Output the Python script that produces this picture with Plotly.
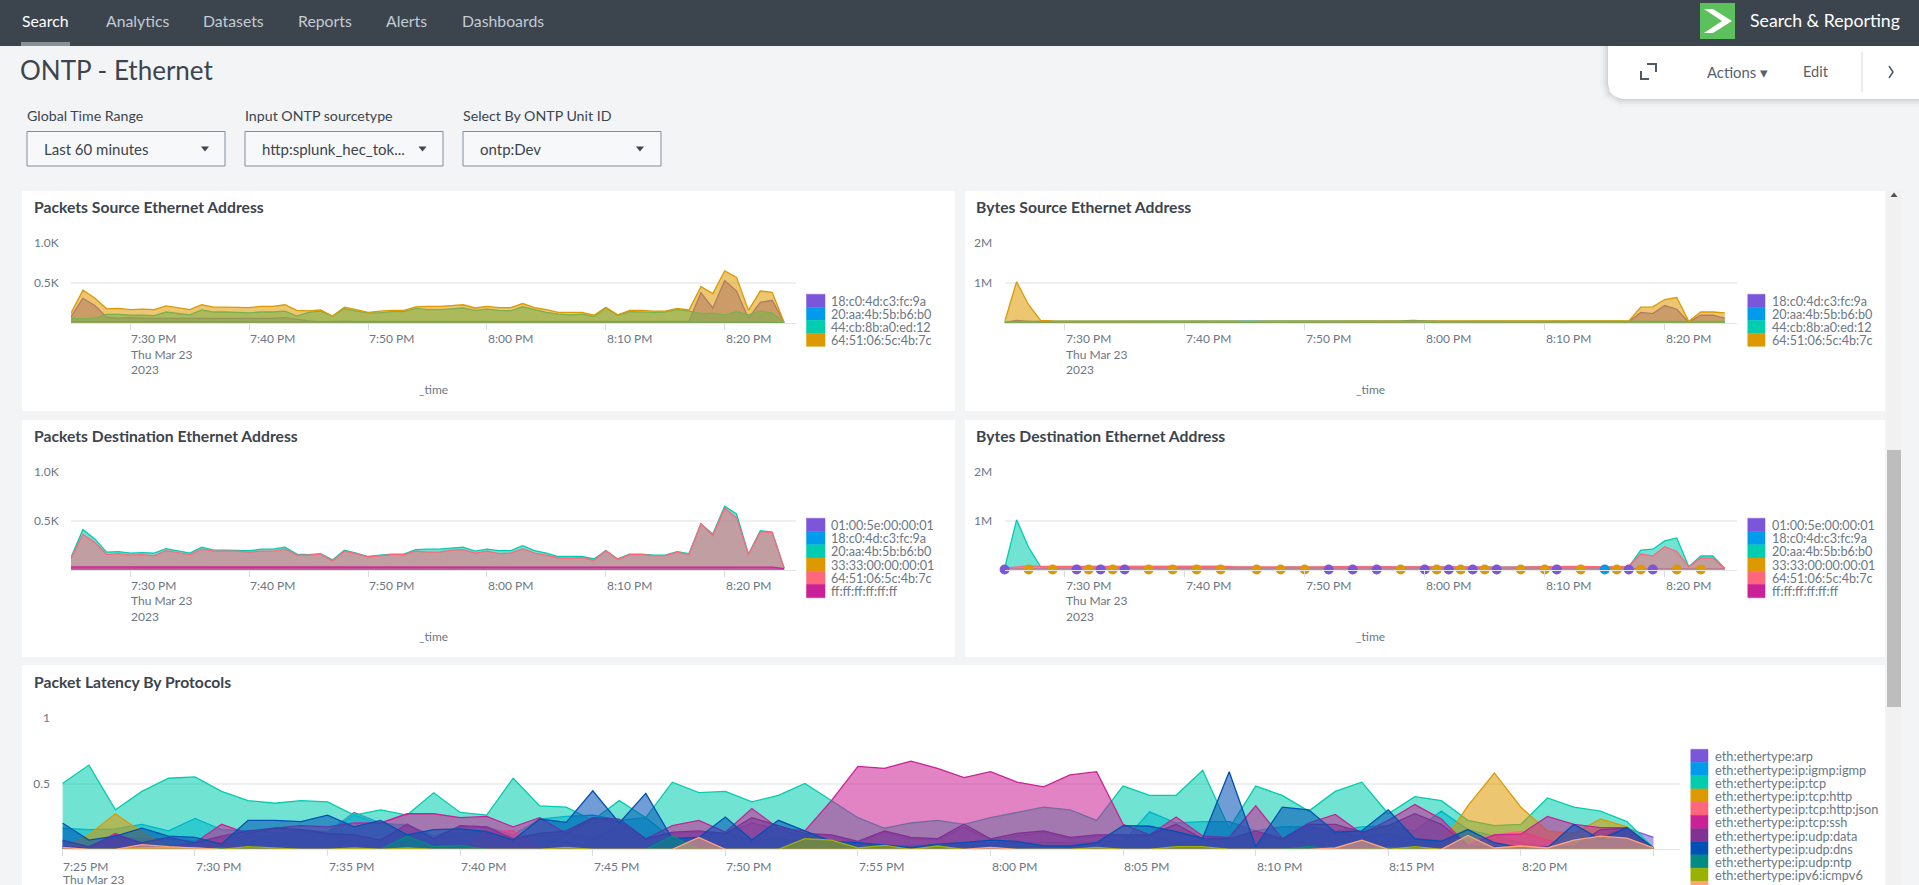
import pandas as pd
import plotly.graph_objects as go

W, H = 1919, 885

# one sample per minute, 7:25 PM to 8:25 PM
times = pd.date_range("2023-03-23 19:25", periods=61, freq="min")

# Packets Source Ethernet Address
src_pkts_18c0 = [80, 310, 220, 75, 65, 70, 65, 60, 60, 60, 60, 60, 60, 60, 60, 60, 60, 60, 70, 50, 30, 20, 25, 28, 25, 25, 28, 28, 30, 30, 30, 30, 28, 28, 25, 25, 25, 25, 25, 25, 25, 25, 25, 25, 22, 25, 25, 25, 25, 25, 25, 25, 25, 380, 190, 530, 400, 60, 260, 285, 10]
src_pkts_20aa = [25, 20, 20, 20, 20, 20, 20, 20, 20, 20, 20, 20, 20, 20, 20, 20, 20, 20, 20, 15, 12, 12, 12, 15, 15, 12, 12, 15, 15, 15, 15, 15, 15, 15, 15, 15, 15, 15, 15, 15, 15, 15, 15, 15, 12, 15, 15, 15, 15, 15, 15, 15, 15, 15, 15, 15, 15, 15, 15, 15, 5]
src_pkts_44cb = [65, 55, 65, 110, 110, 100, 100, 95, 140, 125, 105, 165, 140, 140, 135, 130, 140, 140, 150, 90, 135, 150, 90, 180, 150, 130, 130, 145, 145, 185, 170, 170, 180, 190, 160, 175, 160, 155, 205, 170, 135, 115, 105, 115, 85, 190, 100, 145, 140, 135, 140, 170, 150, 120, 125, 105, 145, 105, 155, 125, 8]
src_pkts_6451 = [125, 410, 315, 180, 185, 170, 175, 170, 215, 195, 170, 230, 200, 200, 200, 195, 210, 210, 230, 160, 155, 165, 90, 200, 170, 135, 150, 160, 160, 205, 210, 210, 220, 230, 190, 210, 195, 195, 245, 195, 170, 135, 135, 135, 100, 200, 105, 160, 160, 150, 150, 185, 165, 455, 370, 650, 570, 160, 400, 385, 10]

# Bytes Source Ethernet Address
src_bytes_18c0 = [20000, 70000, 50000, 30000, 30000, 30000, 30000, 30000, 30000, 30000, 30000, 30000, 30000, 30000, 30000, 30000, 30000, 30000, 30000, 30000, 30000, 30000, 30000, 30000, 30000, 30000, 30000, 30000, 30000, 30000, 30000, 30000, 30000, 30000, 30000, 30000, 30000, 30000, 30000, 30000, 30000, 30000, 30000, 30000, 30000, 30000, 30000, 30000, 30000, 30000, 30000, 30000, 40000, 270000, 240000, 440000, 350000, 30000, 200000, 200000, 130000]
src_bytes_20aa = [30000, 40000, 45000, 50000, 50000, 50000, 50000, 50000, 50000, 55000, 50000, 50000, 50000, 50000, 50000, 50000, 50000, 50000, 50000, 50000, 50000, 50000, 55000, 60000, 50000, 60000, 50000, 60000, 65000, 60000, 60000, 60000, 55000, 60000, 70000, 55000, 50000, 50000, 50000, 50000, 50000, 50000, 50000, 60000, 50000, 50000, 60000, 50000, 55000, 55000, 55000, 60000, 65000, 50000, 45000, 40000, 40000, 40000, 40000, 40000, 40000]
src_bytes_44cb = [40000, 50000, 50000, 50000, 50000, 50000, 50000, 50000, 50000, 50000, 50000, 50000, 50000, 50000, 50000, 50000, 50000, 50000, 50000, 50000, 45000, 45000, 45000, 45000, 45000, 45000, 45000, 45000, 45000, 45000, 45000, 45000, 45000, 45000, 45000, 45000, 45000, 45000, 45000, 45000, 45000, 45000, 45000, 45000, 45000, 45000, 45000, 45000, 45000, 45000, 45000, 45000, 45000, 45000, 45000, 45000, 45000, 45000, 45000, 45000, 45000]
src_bytes_6451 = [30000, 1030000, 460000, 70000, 60000, 60000, 65000, 55000, 70000, 65000, 60000, 70000, 65000, 65000, 65000, 65000, 65000, 70000, 70000, 55000, 50000, 50000, 45000, 50000, 50000, 45000, 50000, 50000, 50000, 50000, 50000, 50000, 50000, 55000, 50000, 50000, 50000, 50000, 50000, 50000, 50000, 45000, 45000, 45000, 45000, 50000, 45000, 50000, 50000, 50000, 50000, 50000, 60000, 400000, 410000, 590000, 640000, 50000, 280000, 280000, 260000]

# Packets Destination Ethernet Address
dst_pkts_0100 = [3, 2, 2, 3, 2, 2, 2, 3, 2, 2, 3, 2, 2, 2, 3, 2, 2, 2, 2, 2, 2, 2, 3, 2, 2, 2, 2, 3, 2, 2, 2, 3, 2, 2, 2, 3, 2, 2, 2, 2, 3, 2, 2, 2, 2, 2, 2, 2, 2, 2, 2, 2, 2, 2, 2, 2, 2, 2, 2, 2, 1]
dst_pkts_18c0 = [5, 4, 4, 4, 4, 4, 4, 4, 4, 4, 4, 4, 4, 4, 4, 4, 4, 4, 4, 4, 4, 4, 4, 4, 4, 4, 4, 4, 4, 4, 4, 4, 4, 4, 4, 4, 4, 4, 4, 4, 4, 4, 4, 4, 4, 4, 4, 4, 4, 4, 4, 4, 4, 4, 4, 4, 4, 4, 4, 4, 1]
dst_pkts_20aa = [125, 410, 315, 180, 185, 170, 175, 170, 215, 195, 170, 230, 200, 200, 200, 195, 210, 210, 230, 160, 155, 165, 100, 200, 170, 135, 150, 160, 160, 205, 210, 210, 220, 230, 190, 210, 195, 195, 245, 195, 170, 135, 135, 135, 110, 195, 110, 160, 160, 150, 150, 185, 165, 470, 365, 650, 570, 160, 400, 385, 15]
dst_pkts_3333 = [2, 3, 2, 3, 2, 2, 3, 2, 2, 3, 2, 2, 3, 2, 2, 3, 2, 2, 3, 2, 2, 3, 2, 2, 3, 2, 2, 3, 2, 2, 3, 2, 2, 3, 2, 2, 3, 2, 2, 3, 2, 2, 3, 2, 2, 3, 2, 2, 3, 2, 2, 3, 2, 2, 3, 2, 2, 3, 2, 2, 1]
dst_pkts_6451 = [115, 360, 280, 155, 165, 150, 155, 145, 195, 175, 155, 210, 190, 190, 190, 180, 190, 190, 210, 150, 150, 160, 90, 190, 165, 130, 145, 155, 155, 190, 180, 180, 200, 205, 170, 190, 165, 170, 215, 170, 150, 120, 115, 125, 95, 195, 105, 155, 155, 145, 145, 180, 155, 470, 350, 630, 530, 155, 390, 380, 15]
dst_pkts_ffff = [28, 28, 26, 26, 26, 28, 30, 30, 26, 26, 26, 28, 26, 26, 26, 30, 28, 26, 26, 26, 32, 30, 28, 26, 26, 30, 26, 26, 26, 28, 26, 26, 30, 26, 26, 30, 26, 26, 26, 26, 26, 26, 26, 26, 26, 26, 26, 26, 26, 26, 26, 28, 28, 30, 26, 26, 30, 30, 28, 26, 10]

# Bytes Destination Ethernet Address
dst_bytes_20aa = [30000, 1020000, 460000, 60000, 55000, 55000, 55000, 50000, 60000, 55000, 50000, 60000, 55000, 55000, 55000, 55000, 60000, 60000, 60000, 50000, 45000, 45000, 40000, 50000, 50000, 45000, 50000, 50000, 50000, 50000, 50000, 50000, 50000, 50000, 50000, 50000, 50000, 50000, 50000, 50000, 45000, 40000, 40000, 40000, 40000, 50000, 40000, 50000, 50000, 50000, 50000, 50000, 60000, 400000, 420000, 590000, 650000, 60000, 280000, 280000, 25000]
dst_bytes_6451 = [30000, 60000, 80000, 70000, 70000, 75000, 75000, 70000, 75000, 75000, 70000, 75000, 75000, 75000, 75000, 75000, 75000, 80000, 75000, 60000, 55000, 55000, 50000, 55000, 55000, 50000, 55000, 60000, 60000, 60000, 60000, 65000, 65000, 70000, 60000, 55000, 55000, 55000, 60000, 60000, 55000, 50000, 50000, 50000, 50000, 60000, 55000, 65000, 70000, 60000, 55000, 55000, 70000, 320000, 280000, 470000, 370000, 60000, 240000, 235000, 25000]
dst_bytes_ffff = [18000] * 61
# these three only report now and then, so they show as lone dots
dst_bytes_0100_at = [0, 6, 8, 10, 27, 29, 31, 35, 37, 39, 41, 46, 52, 54]
dst_bytes_0100 = [3000, 3000, 3000, 3000, 3000, 3000, 3000, 3000, 3000, 3000, 3000, 3000, 3000, 3000]
dst_bytes_18c0_at = [50]
dst_bytes_18c0 = [3000]
dst_bytes_3333_at = [2, 4, 7, 9, 12, 14, 16, 18, 21, 23, 25, 33, 36, 38, 40, 43, 45, 48, 51, 53, 56, 58]
dst_bytes_3333 = [3000] * 22

# Packet Latency By Protocols
lat_arp = [.06, .02, .09, .08, .08, .06, .09, .10, .10, .15, .13, .28, .20, .18, .08, .12, .14, .10, .10, .12, .08, .18, .08, .12, .13, .12, .20, .15, .10, .10, .05, .13, .08, .07, .17, .07, .10, .13, .08, .10, .10, .10, .05, .07, .07, .12, .07, .18, .12, .10, .12, .08, .07, .03, .02, .02, .02, .02, .10, .16, .09]
lat_igmp = [.16, .15, .155, .19, .14, .235, .15, .14, .13, .13, .12, .26, .19, .19, .10, .17, .17, .11, .23, .25, .26, .22, .24, .08, .10, .12, .07, .08, .06, .05, .04, .03, .03, .03, .03, .04, .05, .05, .05, .06, .06, .285, .20, .21, .21, .14, .17, .17, .14, .17, .18, .14, .29, .15, .10, .05, .02, .02, .02, .02, .01]
lat_tcp = [.50, .64, .30, .44, .54, .55, .44, .37, .35, .37, .36, .26, .30, .26, .43, .28, .26, .54, .33, .32, .22, .37, .24, .51, .43, .44, .36, .41, .50, .37, .24, .16, .20, .22, .19, .24, .28, .32, .30, .22, .48, .41, .41, .60, .16, .48, .41, .29, .44, .51, .27, .40, .37, .22, .18, .19, .39, .32, .29, .21, .01]
lat_http = [.0, .11, .27, .13, .02, .01, .0, .0, .0, .0, .0, .0, .0, .0, .0, .0, .0, .0, .0, .0, .0, .0, .0, .0, .0, .0, .0, .0, .0, .0, .0, .0, .0, .0, .0, .0, .0, .0, .0, .0, .0, .0, .0, .0, .0, .0, .0, .0, .0, .0, .0, .0, .03, .33, .58, .32, .14, .12, .23, .17, .0]
lat_json = [.01, .02, .12, .04, .02, .03, .07, .0, .0, .0, .0, .0, .0, .0, .0, .0, .135, .14, .0, .0, .0, .0, .0, .0, .0, .0, .0, .0, .0, .0, .0, .0, .0, .0, .0, .0, .0, .0, .0, .0, .0, .0, .0, .0, .0, .0, .0, .0, .0, .0, .0, .0, .0, .06, .11, .135, .07, .02, .0, .0, .0]
lat_ssh = [.02, .01, .12, .04, .02, .05, .19, .12, .16, .18, .17, .20, .20, .27, .27, .24, .25, .17, .24, .12, .235, .21, .08, .18, .22, .13, .31, .16, .14, .37, .63, .615, .67, .615, .545, .59, .51, .475, .565, .59, .19, .11, .245, .10, .09, .33, .08, .20, .265, .12, .22, .34, .23, .03, .11, .115, .25, .19, .165, .165, .01]
lat_udp_data = [.07, .02, .11, .05, .09, .05, .10, .14, .16, .15, .12, .11, .07, .19, .08, .18, .17, .08, .12, .14, .24, .23, .08, .13, .14, .12, .24, .18, .12, .11, .06, .14, .09, .08, .19, .08, .12, .14, .09, .11, .11, .11, .19, .08, .08, .14, .08, .19, .19, .13, .18, .27, .19, .03, .02, .01, .02, .02, .15, .16, .01]
lat_udp_dns = [.20, .07, .10, .16, .10, .09, .04, .22, .22, .21, .26, .17, .22, .11, .15, .155, .135, .07, .23, .205, .445, .20, .425, .08, .09, .245, .07, .22, .14, .06, .05, .03, .015, .04, .05, .07, .06, .025, .025, .05, .18, .175, .135, .085, .59, .02, .32, .30, .13, .14, .30, .08, .06, .15, .05, .01, .01, .19, .075, .165, .01]
lat_udp_ntp = [.0, .0, .0, .0, .0, .0, .01, .0, .0, .0, .0, .0, .0, .10, .02, .03, .0, .0, .0, .0, .0, .0, .0, .10, .0, .0, .0, .0, .0, .0, .0, .0, .0, .0, .0, .0, .0, .0, .0, .0, .0, .0, .0, .0, .0, .0, .0, .02, .0, .0, .015, .0, .0, .0, .0, .0, .0, .0, .0, .0, .0]
lat_icmpv6 = [.0, .0, .0, .01, .015, .01, .0, .02, .01, .0, .0, .01, .0, .01, .0, .0, .0, .0, .0, .015, .0, .0, .0, .0, .0, .0, .0, .0, .08, .07, .01, .03, .0, .025, .0, .0, .0, .0, .0, .015, .0, .0, .02, .02, .0, .0, .0, .0, .0, .0, .0, .02, .0, .0, .0, .0, .0, .0, .0, .0, .0]
lat_last = [.015, .0, .0, .035, .02, .01, .0, .0, .0, .0, .0, .0, .0, .0, .0, .0, .0, .0, .0, .0, .0, .0, .0, .0, .09, .0, .0, .0, .0, .0, .0, .0, .0, .0, .0, .015, .0, .0, .0, .0, .0, .0, .0, .0, .0, .0, .0, .0, .01, .07, .0, .0, .0, .105, .01, .025, .01, .07, .10, .085, .01]

# axis ticks
ticks_10 = ["19:30", "19:40", "19:50", "20:00", "20:10", "20:20"]
tick_text_10 = ["7:30 PM", "7:40 PM", "7:50 PM", "8:00 PM", "8:10 PM", "8:20 PM"]
ticks_5 = ["19:25", "19:30", "19:35", "19:40", "19:45", "19:50", "19:55", "20:00", "20:05", "20:10", "20:15", "20:20", "20:25"]
tick_text_5 = ["7:25 PM", "7:30 PM", "7:35 PM", "7:40 PM", "7:45 PM", "7:50 PM", "7:55 PM", "8:00 PM", "8:05 PM", "8:10 PM", "8:15 PM", "8:20 PM"]

# legends
src_names = ["18:c0:4d:c3:fc:9a", "20:aa:4b:5b:b6:b0", "44:cb:8b:a0:ed:12", "64:51:06:5c:4b:7c"]
dst_names = ["01:00:5e:00:00:01", "18:c0:4d:c3:fc:9a", "20:aa:4b:5b:b6:b0", "33:33:00:00:00:01", "64:51:06:5c:4b:7c", "ff:ff:ff:ff:ff:ff"]
proto_names = ["eth:ethertype:arp", "eth:ethertype:ip:igmp:igmp", "eth:ethertype:ip:tcp", "eth:ethertype:ip:tcp:http", "eth:ethertype:ip:tcp:http:json", "eth:ethertype:ip:tcp:ssh", "eth:ethertype:ip:udp:data", "eth:ethertype:ip:udp:dns", "eth:ethertype:ip:udp:ntp", "eth:ethertype:ipv6:icmpv6", ""]

nav_items = ["Search", "Analytics", "Datasets", "Reports", "Alerts", "Dashboards"]
nav_x = [21, 104.5, 202, 297, 385, 461]

PALETTE = ["#7B56DB", "#009CEB", "#00CDAF", "#DD9900", "#FF677B", "#CB2196", "#813193", "#0051B5", "#008C80", "#99B100", "#FFA476"]
FONT = "Lato"
TEXT = "#3c444d"
MUTED = "#6b7785"


def fx(x):
    return x / W


def fy(y):
    return 1 - y / H


def rgba(color, alpha):
    r, g, b = int(color[1:3], 16), int(color[3:5], 16), int(color[5:7], 16)
    return f"rgba({r},{g},{b},{alpha})"


fig = go.Figure()
shapes = []
notes = []


def box(x0, y0, x1, y1, fill, line=None, width=1):
    shapes.append(dict(type="rect", xref="paper", yref="paper", x0=fx(x0), x1=fx(x1), y0=fy(y1), y1=fy(y0),
                       fillcolor=fill, line=dict(color=line or fill, width=width if line else 0), layer="below"))


def poly(points, fill=None, line=None, width=1, close=True, layer="above"):
    path = "M " + " L ".join(f"{fx(x):.5f} {fy(y):.5f}" for x, y in points) + (" Z" if close else "")
    shapes.append(dict(type="path", xref="paper", yref="paper", path=path, fillcolor=fill,
                       line=dict(color=line or "rgba(0,0,0,0)", width=width), layer=layer))


def text(x, y, s, size=12, color=MUTED, anchor="left", bold=False):
    notes.append(dict(xref="paper", yref="paper", x=fx(x), y=fy(y), text=f"<b>{s}</b>" if bold else s, showarrow=False, borderpad=0,
                      xanchor=anchor, yanchor="middle", font=dict(family=FONT, size=size, color=color)))


def panel(idx, left, right, top, bottom, y_max, y_vals, y_text, ticks):
    # one subplot, placed by its pixel box
    layout = {
        f"xaxis{idx}": dict(domain=[fx(left), fx(right)], anchor=f"y{idx}", type="date", range=["2023-03-23 19:25", "2023-03-23 20:26"],
                            tickvals=["2023-03-23 " + t for t in ticks], showticklabels=False, ticks="outside", ticklen=6, tickcolor="#d8dce0",
                            showgrid=False, showline=True, linecolor="#e3e6e9", linewidth=1, zeroline=False),
        f"yaxis{idx}": dict(domain=[fy(bottom), fy(top)], anchor=f"x{idx}", range=[0, y_max], tickvals=y_vals, ticktext=y_text, ticks="outside",
                            ticklen=9, tickcolor="rgba(0,0,0,0)", tickfont=dict(family=FONT, size=12, color=MUTED), gridcolor="#eef0f2", gridwidth=2,
                            showline=False, zeroline=False),
    }
    fig.update_layout(**layout)


def areas(idx, series, colors):
    for values, color in zip(series, colors):
        fig.add_trace(go.Scatter(x=times, y=values, xaxis=f"x{idx}", yaxis=f"y{idx}", mode="lines", fill="tozeroy",
                                 fillcolor=rgba(color, 0.56), line=dict(color=color, width=1.3), showlegend=False))


def dots(idx, minutes, values, color):
    fig.add_trace(go.Scatter(x=[times[m] for m in minutes], y=values, xaxis=f"x{idx}", yaxis=f"y{idx}", mode="markers", cliponaxis=False,
                             marker=dict(color=color, size=10), showlegend=False))


def time_labels(idx, ticks, labels, y, date_lines):
    for t, s in zip(ticks, labels):
        notes.append(dict(xref=f"x{idx}", yref="paper", x="2023-03-23 " + t, y=fy(y), text=s, showarrow=False, xanchor="left", borderpad=0,
                          yanchor="middle", font=dict(family=FONT, size=12, color=MUTED)))
    for s, yy in date_lines:
        notes.append(dict(xref=f"x{idx}", yref="paper", x="2023-03-23 " + ticks[0], y=fy(yy), text=s, showarrow=False, xanchor="left", borderpad=0,
                          yanchor="middle", font=dict(family=FONT, size=12, color=MUTED)))


def legend(names, colors, sw_left, sw_right, top, step, text_x, size=12.6):
    for i, (name, color) in enumerate(zip(names, colors)):
        y0 = top + i * step
        box(sw_left, y0, sw_right, y0 + step, color, rgba(color, 0.5), 1)
        if name:
            text(text_x, y0 + step / 2 + 0.5, name, size=size)


# page furniture
box(0, 0, W, H, "#f2f4f5")
box(0, 0, W, 46, "#3c444d")
box(21, 42, 70, 46, "#8a9198")
for i, (s, x) in enumerate(zip(nav_items, nav_x)):
    text(x, 21, s, size=15.8, color="#ffffff" if i == 0 else "#c3cbd4")
box(1700, 3, 1735, 39, "#5cc05c")
poly([(1704, 9), (1713, 9), (1732, 21), (1713, 33), (1704, 33), (1722, 21)], fill="#ffffff")
text(1748.5, 21, "Search &amp; Reporting", size=17.7, color="#ffffff")
text(18.5, 70, "ONTP - Ethernet", size=26, color=TEXT)

# action box in the top right corner, with a soft shadow
for grow, a in [(8, 0.02), (5, 0.03), (3, 0.04), (1, 0.05)]:
    poly([(1608 - grow, 46), (1608 - grow, 84), (1611 - grow, 93 + grow * 0.6), (1620, 99 + grow), (W, 99 + grow), (W, 46)], fill=f"rgba(0,0,0,{a})", layer="below")
poly([(1608, 46), (1608, 84), (1610, 92), (1614, 96), (1622, 99), (W, 99), (W, 46)], fill="#ffffff", layer="below")
poly([(1641, 71), (1641, 79), (1649, 79)], line="#4f5964", width=2, close=False)
poly([(1647, 64), (1656, 64), (1656, 72)], line="#4f5964", width=2, close=False)
text(1705.5, 71.5, "Actions ▾", size=14.8, color="#56616c")
text(1802, 71.5, "Edit", size=14.5, color="#56616c")
poly([(1862, 52), (1862, 92)], line="#d5d9dd", width=1, close=False)
poly([(1889, 66), (1893, 72), (1889, 78)], line="#4f5964", width=1.5, close=False)

# dropdowns
for label, value, x0, arrow in [("Global Time Range", "Last 60 minutes", 27, 205), ("Input ONTP sourcetype", "http:splunk_hec_tok...", 245, 422.5), ("Select By ONTP Unit ID", "ontp:Dev", 463, 640)]:
    text(x0 - 0.8, 116, label, size=14.2, color=TEXT)
    box(x0, 131.5, x0 + 198, 166, "#f7f8fa", "#818d99", 1)
    text(x0 + 16, 148.5, value, size=15, color=TEXT)
    poly([(arrow - 4, 146.5), (arrow + 4, 146.5), (arrow, 151.5)], fill="#3c444d")

# white cards
box(22, 191, 955, 411, "#ffffff")
box(965, 191, 1885, 411, "#ffffff")
box(22, 420, 955, 657, "#ffffff")
box(965, 420, 1885, 657, "#ffffff")
box(22, 665, 1885, H, "#ffffff")

# scrollbar
box(1887, 191, 1901, H, "#f1f1f1")
box(1887, 450, 1901, 707, "#bdbdbd")
poly([(1890.5, 197), (1897.5, 197), (1894, 192.5)], fill="#505050")

# card titles
text(32.5, 207, "Packets Source Ethernet Address", size=15.7, color=TEXT, bold=True)
text(975, 207, "Bytes Source Ethernet Address", size=15.7, color=TEXT, bold=True)
text(32.5, 436, "Packets Destination Ethernet Address", size=15.7, color=TEXT, bold=True)
text(975, 436, "Bytes Destination Ethernet Address", size=15.7, color=TEXT, bold=True)
text(32.5, 682, "Packet Latency By Protocols", size=15.7, color=TEXT, bold=True)

# charts
panel(1, 71, 796, 242.7, 323.3, 1000, [500, 1000], ["0.5K", "1.0K"], ticks_10)
areas(1, [src_pkts_18c0, src_pkts_20aa, src_pkts_44cb, src_pkts_6451], PALETTE[:4])
time_labels(1, ticks_10, tick_text_10, 339, [("Thu Mar 23", 354.5), ("2023", 370)])
text(433.5, 390, "_time", anchor="center")
legend(src_names, PALETTE, 806.5, 825, 294.3, 13, 829.5)

panel(2, 1004.6, 1736.8, 242.7, 323.3, 2000000, [1000000, 2000000], ["1M", "2M"], ticks_10)
areas(2, [src_bytes_18c0, src_bytes_20aa, src_bytes_44cb, src_bytes_6451], PALETTE[:4])
time_labels(2, ticks_10, tick_text_10, 339, [("Thu Mar 23", 354.5), ("2023", 370)])
text(1370.5, 390, "_time", anchor="center")
legend(src_names, PALETTE, 1747.8, 1765, 294.3, 13, 1770.5)

panel(3, 71, 796, 472, 569.7, 1000, [500, 1000], ["0.5K", "1.0K"], ticks_10)
areas(3, [dst_pkts_0100, dst_pkts_18c0, dst_pkts_20aa, dst_pkts_3333, dst_pkts_6451, dst_pkts_ffff], PALETTE[:6])
time_labels(3, ticks_10, tick_text_10, 585.5, [("Thu Mar 23", 600.5), ("2023", 616)])
text(433.5, 636.5, "_time", anchor="center")
legend(dst_names, PALETTE, 806.5, 825, 518.3, 13.23, 829.5)

panel(4, 1004.6, 1736.8, 472, 569.7, 2000000, [1000000, 2000000], ["1M", "2M"], ticks_10)
fig.add_trace(go.Scatter(x=times, y=dst_bytes_ffff, xaxis="x4", yaxis="y4", mode="lines", fill="tozeroy",
                         fillcolor=rgba(PALETTE[5], 0.56), line=dict(color=PALETTE[5], width=1), showlegend=False))
areas(4, [dst_bytes_20aa, dst_bytes_6451], [PALETTE[2], PALETTE[4]])
dots(4, dst_bytes_0100_at, dst_bytes_0100, PALETTE[0])
dots(4, dst_bytes_18c0_at, dst_bytes_18c0, PALETTE[1])
dots(4, dst_bytes_3333_at, dst_bytes_3333, PALETTE[3])
time_labels(4, ticks_10, tick_text_10, 585.5, [("Thu Mar 23", 600.5), ("2023", 616)])
text(1370.5, 636.5, "_time", anchor="center")
legend(dst_names, PALETTE, 1747.8, 1765, 518.3, 13.23, 1770.5)

panel(5, 62.4, 1680, 717.7, 849.3, 1, [0.5, 1], ["0.5", "1"], ticks_5)
areas(5, [lat_arp, lat_igmp, lat_tcp, lat_http, lat_json, lat_ssh, lat_udp_data, lat_udp_dns, lat_udp_ntp, lat_icmpv6, lat_last], PALETTE)
time_labels(5, ticks_5[:-1], tick_text_5, 866, [("Thu Mar 23", 879)])
legend(proto_names, PALETTE, 1690.8, 1708, 749.3, 13.2, 1713.5, size=12.8)

fig.update_layout(width=W, height=H, margin=dict(l=0, r=0, t=0, b=0, autoexpand=False), paper_bgcolor="#f2f4f5", plot_bgcolor="rgba(0,0,0,0)",
                  showlegend=False, shapes=shapes, annotations=notes, font=dict(family=FONT))

fig.write_html("out.html", config={"displayModeBar": False}, post_script="document.body.style.margin='0';document.body.style.overflow='hidden';")
